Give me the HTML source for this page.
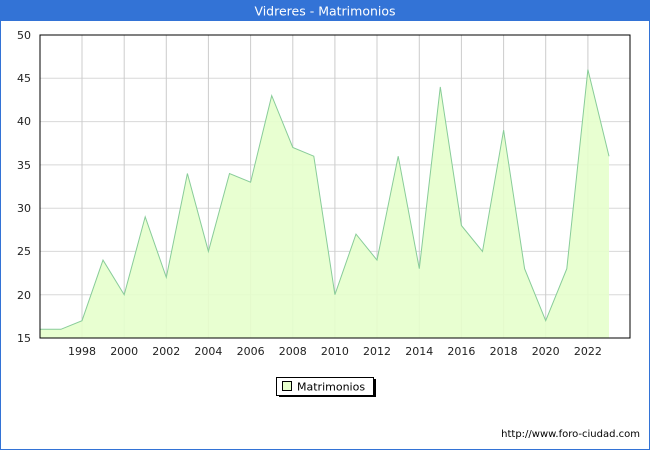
<!DOCTYPE html>
<html><head><style>
body{margin:0;width:650px;height:450px;overflow:hidden;background:#fff;font-family:"DejaVu Sans","Liberation Sans",sans-serif;}
</style></head><body>
<svg width="650" height="450" viewBox="0 0 650 450" xmlns="http://www.w3.org/2000/svg">
<rect x="0.5" y="0.5" width="649" height="449" fill="#fff" stroke="#3373d6" stroke-width="1"/>
<rect x="0" y="0" width="650" height="21" fill="#3373d6"/>
<text x="325" y="15.5" fill="#fff" font-size="12.5" text-anchor="middle" font-family="DejaVu Sans, sans-serif">Vidreres - Matrimonios</text>
<g stroke="#d8d8d8" stroke-width="1">
<line x1="40" y1="78.3" x2="630" y2="78.3"/><line x1="40" y1="121.6" x2="630" y2="121.6"/><line x1="40" y1="164.9" x2="630" y2="164.9"/><line x1="40" y1="208.2" x2="630" y2="208.2"/><line x1="40" y1="251.4" x2="630" y2="251.4"/><line x1="40" y1="294.7" x2="630" y2="294.7"/>
</g>
<g stroke="#cccccc" stroke-width="1">
<line x1="82" y1="35" x2="82" y2="338"/><line x1="124.2" y1="35" x2="124.2" y2="338"/><line x1="166.3" y1="35" x2="166.3" y2="338"/><line x1="208.4" y1="35" x2="208.4" y2="338"/><line x1="250.6" y1="35" x2="250.6" y2="338"/><line x1="292.8" y1="35" x2="292.8" y2="338"/><line x1="334.9" y1="35" x2="334.9" y2="338"/><line x1="377" y1="35" x2="377" y2="338"/><line x1="419.3" y1="35" x2="419.3" y2="338"/><line x1="461.4" y1="35" x2="461.4" y2="338"/><line x1="503.6" y1="35" x2="503.6" y2="338"/><line x1="545.7" y1="35" x2="545.7" y2="338"/><line x1="587.9" y1="35" x2="587.9" y2="338"/>
</g>
<polygon fill="#e6ffcc" fill-opacity="0.9" stroke="none" points="39.8,338 39.8,329.3 60.9,329.3 82,320.7 103,260.1 124.2,294.7 145.2,216.8 166.3,277.4 187.4,173.5 208.4,251.4 229.5,173.5 250.6,182.2 271.7,95.6 292.8,147.5 313.8,156.2 334.9,294.7 356,234.1 377,260.1 398.2,156.2 419.3,268.7 440.3,86.9 461.4,225.5 482.5,251.4 503.6,130.2 524.6,268.7 545.7,320.7 566.8,268.7 587.9,69.6 609,156.2 609,338"/>
<polyline fill="none" stroke="#88cc99" stroke-width="1" points="39.8,329.3 60.9,329.3 82,320.7 103,260.1 124.2,294.7 145.2,216.8 166.3,277.4 187.4,173.5 208.4,251.4 229.5,173.5 250.6,182.2 271.7,95.6 292.8,147.5 313.8,156.2 334.9,294.7 356,234.1 377,260.1 398.2,156.2 419.3,268.7 440.3,86.9 461.4,225.5 482.5,251.4 503.6,130.2 524.6,268.7 545.7,320.7 566.8,268.7 587.9,69.6 609,156.2"/>
<rect x="40" y="35" width="590" height="303" fill="none" stroke="#000" stroke-width="1"/>
<g font-size="11" fill="#222" text-anchor="end">
<text x="31" y="39">50</text><text x="31" y="82">45</text><text x="31" y="125">40</text><text x="31" y="169">35</text><text x="31" y="212">30</text><text x="31" y="255">25</text><text x="31" y="299">20</text><text x="31" y="342">15</text>
</g>
<g font-size="11" fill="#222" text-anchor="middle">
<text x="82" y="355">1998</text><text x="124.2" y="355">2000</text><text x="166.3" y="355">2002</text><text x="208.4" y="355">2004</text><text x="250.6" y="355">2006</text><text x="292.8" y="355">2008</text><text x="334.9" y="355">2010</text><text x="377" y="355">2012</text><text x="419.3" y="355">2014</text><text x="461.4" y="355">2016</text><text x="503.6" y="355">2018</text><text x="545.7" y="355">2020</text><text x="587.9" y="355">2022</text>
</g>
<rect x="279" y="379" width="97" height="18" fill="#000"/>
<rect x="276.5" y="377.5" width="97" height="18" fill="#fff" stroke="#000" stroke-width="1"/>
<rect x="282.5" y="381.5" width="9" height="9" fill="#e6ffcc" stroke="#000" stroke-width="1"/>
<text x="297" y="390.5" font-size="11" fill="#000">Matrimonios</text>
<text x="640" y="437" font-size="10" fill="#000" text-anchor="end">http://www.foro-ciudad.com</text>
</svg>
</body></html>
